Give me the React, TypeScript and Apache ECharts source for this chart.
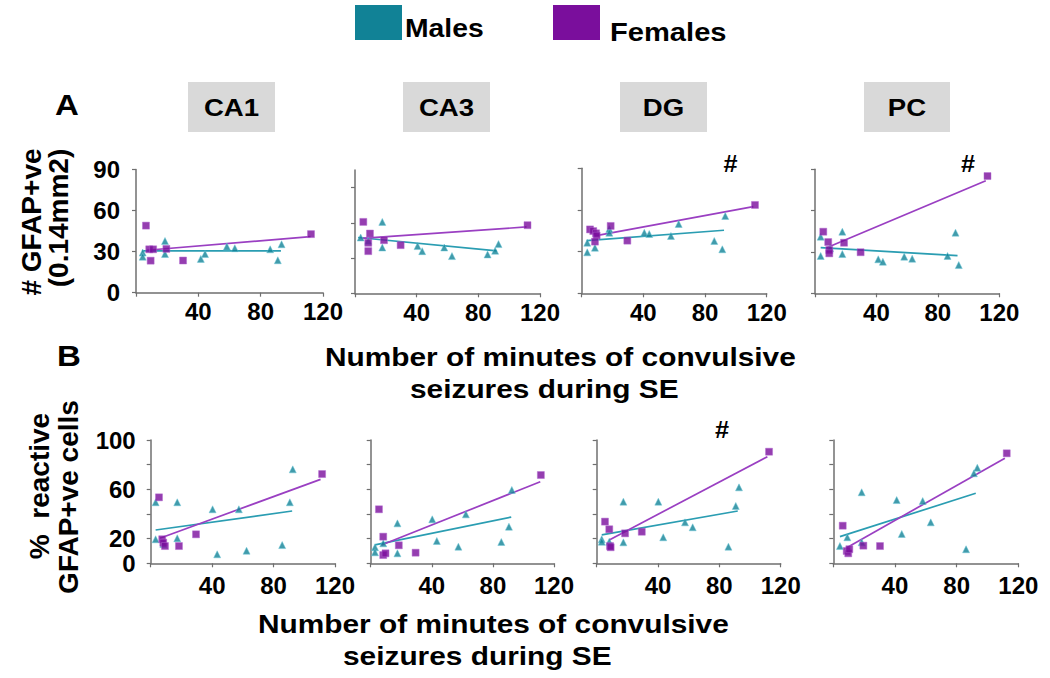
import React, { useEffect, useRef } from 'react';
import * as echarts from 'echarts';

// ---------- axis ticks ----------
const xTicks = [0, 40, 80, 120];
const xTickLabels = [40, 80, 120];
const yTicksA = [0, 30, 60, 90];
const yTicksB = [0, 20, 40, 60, 80, 100];
const yTickLabelsB = [0, 20, 60, 100];
const regions = ['CA1', 'CA3', 'DG', 'PC'];

// ---------- Panel A: # GFAP+ve (0.14mm2) ----------
const aCA1Males = [[4.3, 29.3], [4.3, 26.3], [18.6, 37.8], [18.6, 28.3], [41.6, 24.7], [44.3, 28.3], [58.3, 33.7], [63.4, 32.5], [86.1, 31.7], [91, 23.7], [93.4, 35.4]];
const aCA1Females = [[6.4, 49], [9.4, 23.4], [8.5, 31.7], [11, 31.7], [19.5, 32], [30.2, 23.5], [112.3, 42.8]];
const aCA1MalesFit = [[4, 30.5], [93, 30.5]];
const aCA1FemalesFit = [[7, 31], [112, 41]];

const aCA3Males = [[3.7, 47.5], [8.6, 44.7], [17.7, 60.8], [17.7, 39], [40.6, 40.2], [43.6, 35.9], [57.9, 39], [62.9, 31.7], [86, 33.1], [90.9, 36.2], [93.1, 41.9]];
const aCA3Females = [[5.4, 60.8], [9.7, 50.9], [8.6, 43], [8.6, 35.9], [18.8, 45.2], [29.6, 41], [111.9, 58]];
const aCA3MalesFit = [[2, 47.5], [92, 36.2]];
const aCA3FemalesFit = [[4.3, 46.7], [111.3, 56.5]];

const aDGMales = [[3.6, 36.4], [3.6, 29.5], [8.6, 32.8], [17.9, 46.3], [17.9, 43.6], [40.6, 43.6], [43.8, 42.7], [57.9, 41.3], [62.9, 49.9], [86, 37.7], [91.2, 31.7], [93.1, 55.7]];
const aDGFemales = [[5.4, 46], [7.5, 44.8], [9.3, 43.2], [9.7, 41.5], [8.6, 37.2], [18.8, 48.5], [29.6, 37.9], [112.4, 63.6]];
const aDGMalesFit = [[3.2, 37.9], [92.3, 45.4]];
const aDGFemalesFit = [[8.6, 41.3], [111.3, 62.4]];

const aPCMales = [[3.7, 41.1], [3.7, 27.1], [9.8, 32.7], [17.8, 44.7], [17.8, 28.5], [41.2, 24.7], [44.2, 22.9], [58.1, 26.6], [63.3, 25.1], [86.3, 27.1], [91.5, 44], [93.6, 20.5]];
const aPCFemales = [[5.4, 44.7], [8.6, 37.2], [9.3, 31.4], [9.3, 29], [18.9, 36.7], [29.7, 29.8], [112.3, 85.1]];
const aPCMalesFit = [[3.7, 33.1], [92.8, 27.3]];
const aPCFemalesFit = [[7.6, 33.1], [111.2, 81.7]];

// ---------- Panel B: % reactive GFAP+ve cells ----------
const bCA1Males = [[3.2, 49.5], [3.2, 19.5], [8.2, 15.7], [17.3, 49.5], [17.3, 20.3], [40.3, 43.8], [43.3, 7.3], [57.4, 43.8], [62.4, 10.2], [85.6, 14.8], [90.6, 49.5], [92.5, 76.2]];
const bCA1Females = [[5.4, 53.5], [7.5, 19.5], [8.2, 16.7], [9.3, 14], [18.4, 14], [29.5, 23.5], [111.6, 72.4]];
const bCA1MalesFit = [[3.2, 27], [92.1, 42.4]];
const bCA1FemalesFit = [[6, 20.3], [110.6, 68.1]];

const bCA3Males = [[2.8, 13], [2.8, 8.9], [8.2, 16.2], [17.5, 32.4], [17.5, 8.1], [40.3, 35.7], [43.3, 18.1], [57.4, 13.5], [62.3, 39.7], [85.5, 17.3], [90.5, 29.7], [92.4, 59.5]];
const bCA3Females = [[5.4, 43.8], [8.2, 21.6], [8.2, 6.7], [9.7, 8.1], [18.4, 14.6], [29.4, 8.6], [111.4, 71.6]];
const bCA3MalesFit = [[2.8, 15], [92, 37.5]];
const bCA3FemalesFit = [[7.1, 14.8], [111, 66.2]];

const bDGMales = [[3.3, 19.5], [3.3, 17.5], [8.2, 17.5], [17.4, 50], [17.4, 17], [40.2, 50], [43.4, 21.1], [57.6, 33.2], [62.6, 29.2], [85.9, 13.5], [90.7, 46.5], [92.8, 61.6]];
const bDGFemales = [[5.4, 33.8], [8.2, 27.6], [8.7, 14], [9.1, 13], [18.5, 24.3], [29.4, 25.6], [112.4, 90.5]];
const bDGMalesFit = [[3.3, 23], [92, 42.4]];
const bDGFemalesFit = [[8.2, 18.9], [111.3, 86.5]];

const bPCMales = [[4.3, 14], [9.1, 21.1], [18.4, 57.6], [18.4, 17], [41.1, 51.3], [44.4, 23.8], [58, 50.5], [63.2, 33.2], [86.1, 11.4], [91.2, 73], [93.4, 77.5]];
const bPCFemales = [[6.1, 30.5], [8.7, 10], [9.7, 8.1], [10.4, 11.4], [19.5, 14.3], [30.3, 14], [112.5, 89.2]];
const bPCMalesFit = [[4.3, 21.6], [92.4, 56.8]];
const bPCFemalesFit = [[8.7, 12.7], [111.3, 85.2]];

const panelData = [
  { males: aCA1Males, females: aCA1Females, mFit: aCA1MalesFit, fFit: aCA1FemalesFit },
  { males: aCA3Males, females: aCA3Females, mFit: aCA3MalesFit, fFit: aCA3FemalesFit },
  { males: aDGMales, females: aDGFemales, mFit: aDGMalesFit, fFit: aDGFemalesFit },
  { males: aPCMales, females: aPCFemales, mFit: aPCMalesFit, fFit: aPCFemalesFit },
  { males: bCA1Males, females: bCA1Females, mFit: bCA1MalesFit, fFit: bCA1FemalesFit },
  { males: bCA3Males, females: bCA3Females, mFit: bCA3MalesFit, fFit: bCA3FemalesFit },
  { males: bDGMales, females: bDGFemales, mFit: bDGMalesFit, fFit: bDGFemalesFit },
  { males: bPCMales, females: bPCFemales, mFit: bPCMalesFit, fFit: bPCFemalesFit },
];

// ---------- layout (positions only) ----------
const layout = [
  { left: 136, top: 169.5, width: 187, height: 123.2, yMax: 90, row: 'A' },
  { left: 355, top: 170, width: 185, height: 123.3, yMax: 105, row: 'A' },
  { left: 581.7, top: 168.3, width: 185, height: 125, yMax: 90, row: 'A' },
  { left: 815, top: 169.3, width: 184.3, height: 124, yMax: 90, row: 'A' },
  { left: 150.7, top: 440, width: 184.3, height: 123.3, yMax: 100, row: 'B' },
  { left: 370.7, top: 440, width: 183.3, height: 123.3, yMax: 100, row: 'B' },
  { left: 596.7, top: 440, width: 184, height: 123.3, yMax: 100, row: 'B' },
  { left: 833.3, top: 440, width: 185, height: 123.3, yMax: 100, row: 'B' },
];

const FONT = "'Liberation Sans', Arial, sans-serif";
const TEAL = '#118296';
const PURPLE = '#7a0e9c';
const TEAL_LINE = '#2a9db2';
const PURPLE_LINE = '#9a3fc2';
const AXIS = '#6f6f6f';

const titleBoxes = [
  { x: 188, w: 87 },
  { x: 403, w: 87 },
  { x: 620, w: 87 },
  { x: 864, w: 86 },
];

function txt(text: string, x: number, y: number, size: number, align: string, scaleX = 1, rotation = 0) {
  return {
    type: 'text',
    x,
    y,
    scaleX,
    rotation,
    style: {
      text,
      fill: '#000',
      font: `bold ${size}px ${FONT}`,
      textAlign: align,
      textVerticalAlign: 'middle',
    },
  };
}

function buildOption() {
  const grid: any[] = [];
  const xAxis: any[] = [];
  const yAxis: any[] = [];
  const series: any[] = [];
  layout.forEach((g, i) => {
    grid.push({ left: g.left, top: g.top, width: g.width, height: g.height, outerBoundsMode: 'none', containLabel: false });
    const isA = g.row === 'A';
    const firstCol = i % 4 === 0;
    xAxis.push({
      type: 'value', gridIndex: i, min: 0, max: 120,
      axisLine: { show: true, onZero: false, lineStyle: { color: AXIS, width: 1.5 } },
      axisTick: { show: true, customValues: xTicks, length: 4, lineStyle: { color: AXIS, width: 1.2 } },
      axisLabel: {
        show: true, customValues: xTickLabels, color: '#000', fontSize: 24, fontWeight: 'bold', fontFamily: FONT,
        margin: isA ? 7 : 10,
      },
      splitLine: { show: false },
    });
    yAxis.push({
      type: 'value', gridIndex: i, min: 0, max: g.yMax,
      axisLine: { show: true, onZero: false, lineStyle: { color: AXIS, width: 1.5 } },
      axisTick: { show: true, customValues: isA ? yTicksA : yTicksB, length: 4, lineStyle: { color: AXIS, width: 1.2 } },
      axisLabel: {
        show: firstCol, customValues: isA ? yTicksA : yTickLabelsB, color: '#000', fontSize: 24, fontWeight: 'bold', fontFamily: FONT,
        margin: isA ? 16 : 15,
      },
      splitLine: { show: false },
    });
    const d = panelData[i];
    series.push({
      type: 'line', xAxisIndex: i, yAxisIndex: i, data: d.mFit, symbol: 'none', silent: true, z: 2,
      lineStyle: { color: TEAL_LINE, width: 1.7 },
    });
    series.push({
      type: 'line', xAxisIndex: i, yAxisIndex: i, data: d.fFit, symbol: 'none', silent: true, z: 2,
      lineStyle: { color: PURPLE_LINE, width: 1.7 },
    });
    series.push({
      type: 'scatter', xAxisIndex: i, yAxisIndex: i, data: d.males, symbol: 'triangle', symbolSize: 7, z: 3,
      itemStyle: { color: TEAL, borderColor: '#6cc6d6', borderWidth: 0.6 },
    });
    series.push({
      type: 'scatter', xAxisIndex: i, yAxisIndex: i, data: d.females, symbol: 'rect', symbolSize: 7, z: 4,
      itemStyle: { color: PURPLE, borderColor: '#b06ad0', borderWidth: 0.6 },
    });
  });

  const graphic: any[] = [
    // legend
    { type: 'rect', shape: { x: 355, y: 5, width: 47, height: 35 }, style: { fill: TEAL } },
    txt('Males', 405, 28, 26, 'left', 1.09),
    { type: 'rect', shape: { x: 553, y: 5, width: 47, height: 35 }, style: { fill: PURPLE } },
    txt('Females', 610, 32, 26, 'left', 1.12),
    // row labels
    txt('A', 67, 105, 30, 'center', 1.1),
    txt('B', 69, 356, 30, 'center', 1.1),
    // significance marks
    txt('#', 730.5, 164, 23, 'center', 1.1),
    txt('#', 968, 164, 23, 'center', 1.1),
    txt('#', 722, 430, 23, 'center', 1.1),
    // y titles
    txt('# GFAP+ve', 31, 222, 28, 'center', 1, Math.PI / 2),
    txt('(0.14mm2)', 58, 218, 28, 'center', 1, Math.PI / 2),
    txt('%  reactive', 39, 486, 28, 'center', 1, Math.PI / 2),
    txt('GFAP+ve cells', 68, 497, 28, 'center', 1, Math.PI / 2),
    // x titles
    txt('Number of minutes of convulsive', 325, 357.5, 25.5, 'left', 1.17),
    txt('seizures during SE', 410, 389, 25.5, 'left', 1.17),
    txt('Number of minutes of convulsive', 258, 624, 25.5, 'left', 1.17),
    txt('seizures during SE', 343, 656, 25.5, 'left', 1.17),
  ];
  titleBoxes.forEach((b, i) => {
    graphic.push({ type: 'rect', shape: { x: b.x, y: 82, width: b.w, height: 50 }, style: { fill: '#d9d9d9' } });
    graphic.push(txt(regions[i], b.x + b.w / 2, 108, 23, 'center', 1.2));
  });

  return {
    animation: false,
    backgroundColor: '#fff',
    grid,
    xAxis,
    yAxis,
    series,
    graphic,
  };
}

export default function App() {
  const ref = useRef<HTMLDivElement>(null);
  useEffect(() => {
    document.body.style.margin = '0';
    const chart = echarts.init(ref.current!, undefined, { renderer: 'svg' });
    chart.setOption(buildOption() as any);
    return () => chart.dispose();
  }, []);
  return <div ref={ref} style={{ width: 1050, height: 678 }} />;
}
